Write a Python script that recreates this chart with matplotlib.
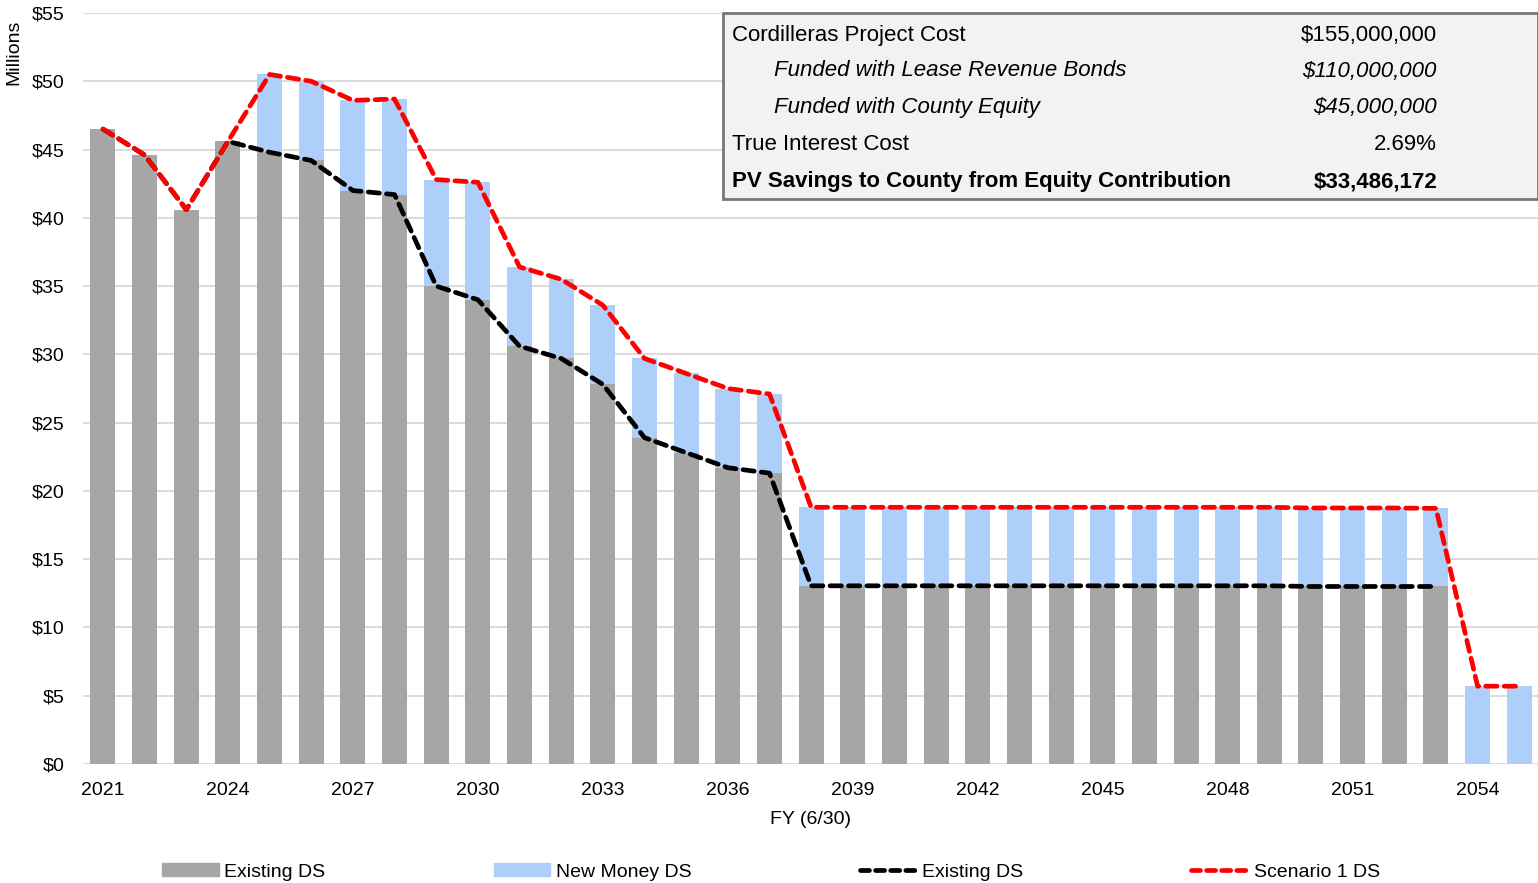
import numpy as np
import matplotlib
matplotlib.use("Agg")
from matplotlib import pyplot as plt
from matplotlib.patches import Rectangle, Patch
from matplotlib.lines import Line2D

plt.rcParams['font.family'] = ['Liberation Sans', 'DejaVu Sans']

# data (millions)
years = list(range(2021, 2056))
existing_ds = [46.5, 44.6, 40.6, 45.6, 44.8, 44.2, 42.0, 41.7, 35.0, 34.0,
               30.6, 29.7, 27.8, 23.9, 22.8, 21.7, 21.3,
               13.05, 13.05, 13.05, 13.05, 13.05, 13.05, 13.05, 13.05,
               13.05, 13.05, 13.05, 13.05, 13.0, 13.0, 13.0, 13.0,
               0.0, 0.0]
scenario_ds = [46.5, 44.6, 40.6, 45.6, 50.5, 50.0, 48.6, 48.7, 42.8, 42.6,
               36.4, 35.5, 33.6, 29.7, 28.6, 27.5, 27.1,
               18.8, 18.8, 18.8, 18.8, 18.8, 18.8, 18.8, 18.8,
               18.8, 18.8, 18.8, 18.8, 18.75, 18.75, 18.75, 18.72,
               5.7, 5.7]
tick_years = list(range(2021, 2055, 3))

table_rows = [
    ("Cordilleras Project Cost", "$155,000,000", "normal"),
    ("Funded with Lease Revenue Bonds", "$110,000,000", "italic"),
    ("Funded with County Equity", "$45,000,000", "italic"),
    ("True Interest Cost", "2.69%", "normal"),
    ("PV Savings to County from Equity Contribution", "$33,486,172", "bold"),
]

GRAY = "#a6a6a6"
BLUE = "#afcffb"

x = np.array(years)
ex = np.array(existing_ds)
sc = np.array(scenario_ds)
new_money = sc - ex
ex_line = np.where(ex > 0, ex, np.nan)

W, H = 1538, 883
fig = plt.figure(figsize=(W / 100, H / 100), dpi=100)
ax = fig.add_axes([83 / W, 1 - 764 / H, 1 - 83 / W, (764 - 13) / H])

ax.bar(x, ex, width=0.6, color=GRAY, zorder=2)
ax.bar(x, new_money, bottom=ex, width=0.6, color=BLUE, zorder=2)
ax.plot(x, ex_line, color="black", lw=3.4, dashes=(2.4, 1.5),
        dash_capstyle="round", zorder=3)
ax.plot(x, sc, color="red", lw=3.4, dashes=(2.4, 1.5),
        dash_capstyle="round", zorder=4)

ax.set_xlim(2020.52, 2055.45)
ax.set_ylim(0, 55)
ax.set_yticks(range(0, 56, 5))
ax.set_yticklabels([f"${v}" for v in range(0, 56, 5)])
ax.set_xticks(tick_years)
ax.tick_params(axis="both", length=0, labelsize=14)
ax.tick_params(axis="x", pad=13)
ax.tick_params(axis="y", pad=13)
ax.grid(axis="y", color="#d9d9d9", lw=1.3, zorder=0)
ax.set_axisbelow(True)
for s in ax.spines.values():
    s.set_visible(False)

fig.text(810 / W, 1 - 819 / H, "FY (6/30)", ha="center", va="center", fontsize=14)
fig.text(14 / W, 1 - 52 / H, "Millions", rotation=90, ha="center", va="center",
         fontsize=14)

# summary box
fig.patches.append(Rectangle((723 / W, 1 - 199 / H), (1538 - 723) / W, 186 / H,
                             transform=fig.transFigure, facecolor="#f2f2f2",
                             edgecolor="#767676", lw=2, zorder=5))
row_y = [35, 71, 108, 145, 182]
for (label, val, style), yy in zip(table_rows, row_y):
    lx = 774 if style == "italic" else 732
    kw = dict(fontsize=16, va="center", zorder=6)
    if style == "italic":
        kw["style"] = "italic"
    if style == "bold":
        kw["weight"] = "bold"
    fig.text(lx / W, 1 - yy / H, label, ha="left", **kw)
    fig.text(1437 / W, 1 - yy / H, val, ha="right", **kw)

handles = [
    Patch(color=GRAY, label="Existing DS"),
    Patch(color=BLUE, label="New Money DS"),
    Line2D([], [], color="black", lw=3.4, dashes=(1.9, 1.3), dash_capstyle="round",
           label="Existing DS"),
    Line2D([], [], color="red", lw=3.4, dashes=(1.9, 1.3), dash_capstyle="round",
           label="Scenario 1 DS"),
]
fig.legend(handles=handles, loc="center", bbox_to_anchor=(771 / W, 1 - 872 / H),
           ncol=4, frameon=False, fontsize=14, handlelength=2.9, handleheight=0.6,
           handletextpad=0.3, columnspacing=8.65)

fig.savefig("out.png", dpi=100)
